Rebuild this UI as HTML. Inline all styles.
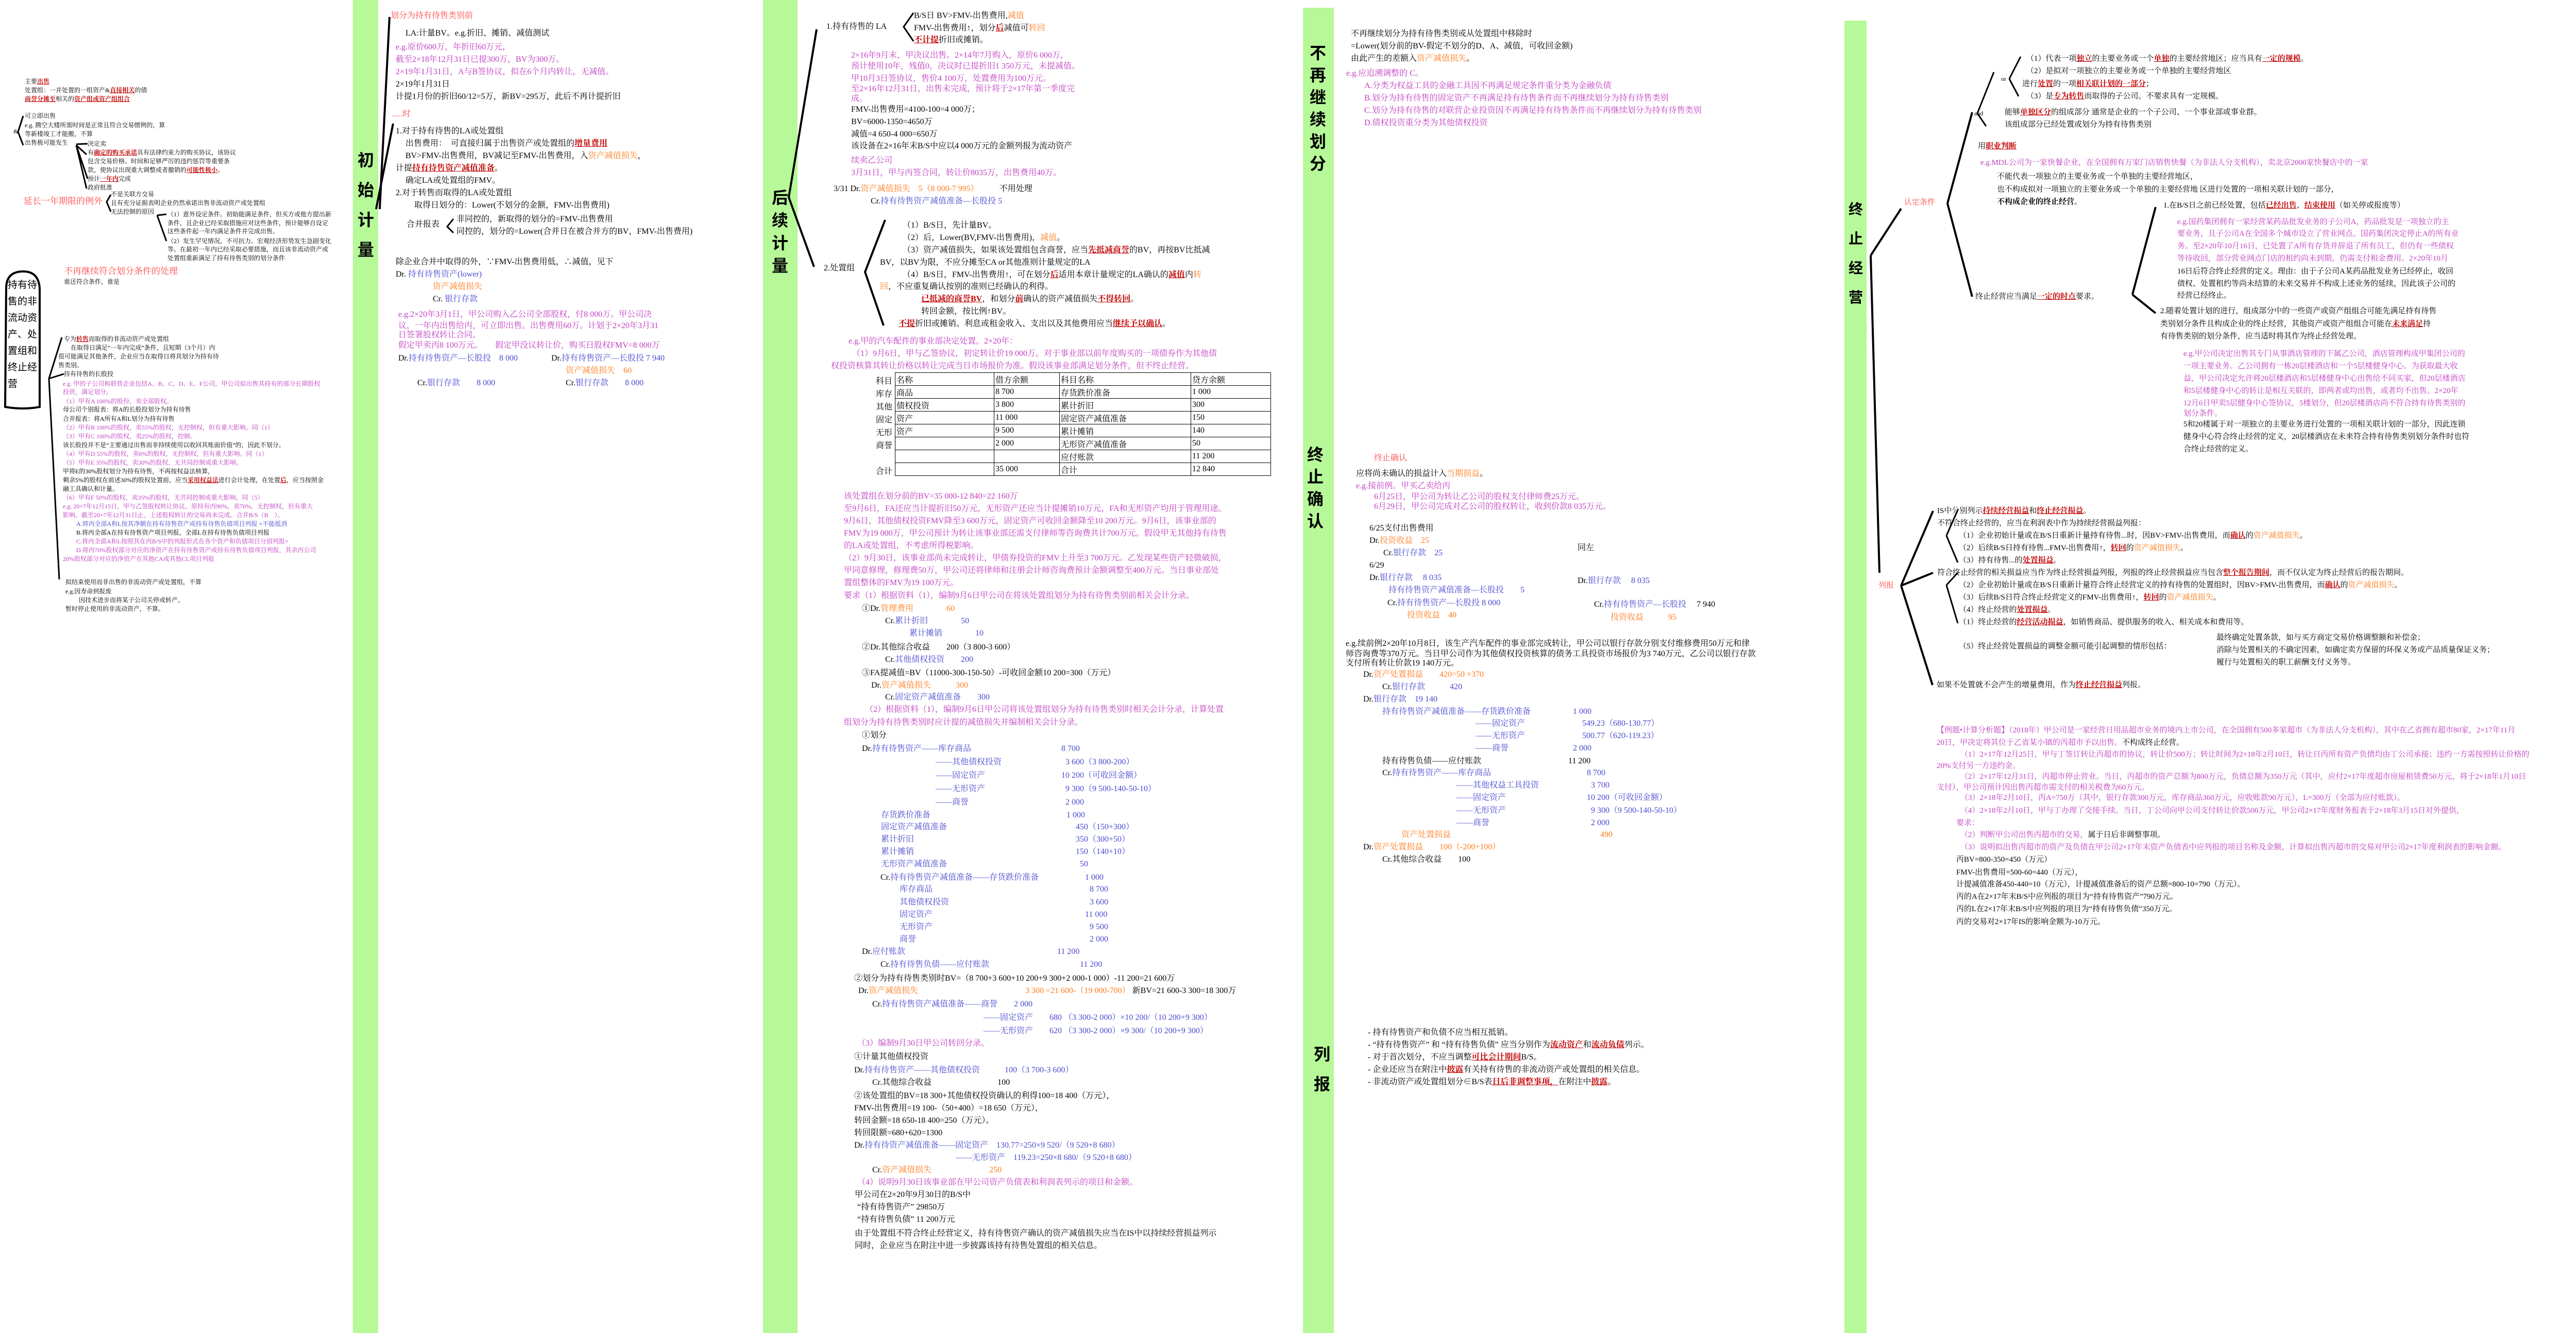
<!DOCTYPE html>
<html><head><meta charset="utf-8">
<style>
*{margin:0;padding:0}
body{width:5288px;height:2588px;position:relative;background:#fff;overflow:hidden;font-family:"Liberation Serif","Noto Serif CJK SC",serif;color:#000}
.bar{position:absolute;background:#b7f899}
.lab{position:absolute;font-family:"Liberation Sans","Noto Sans CJK SC",sans-serif;font-weight:bold;font-size:32px;line-height:1;text-align:center}
.t{position:absolute;white-space:nowrap;font-size:16px;line-height:18px}
.s{position:absolute;white-space:nowrap;font-size:12px;line-height:14px}
.pk{color:#c03cc0}.or{color:#ff7a1a}.bl{color:#4848d0}.rl{color:#ff4545}
.u{color:#c00000;font-weight:bold;text-decoration:underline}
table{position:absolute;border-collapse:collapse;font-size:16px}
td{border:1px solid #000;height:24px;padding:0 2px;white-space:nowrap}
</style></head><body>
<div class="bar" style="left:685px;top:0;width:49px;height:2588px"></div>
<div class="bar" style="left:1481px;top:0;width:67px;height:2588px"></div>
<div class="bar" style="left:2529px;top:15px;width:60px;height:2573px"></div>
<div class="bar" style="left:3580px;top:40px;width:43px;height:2548px"></div>

<div class="lab" style="left:690px;top:282px;width:40px;line-height:58px">初<br>始<br>计<br>量</div>
<div class="lab" style="left:1494px;top:362px;width:40px;line-height:44px">后<br>续<br>计<br>量</div>
<div class="lab" style="left:2538px;top:82px;width:40px;line-height:43px">不<br>再<br>继<br>续<br>划<br>分</div>
<div class="lab" style="left:2533px;top:862px;width:40px;line-height:43px">终<br>止<br>确<br>认</div>
<div class="lab" style="left:2546px;top:2018px;width:40px;line-height:58px">列<br>报</div>
<div class="lab" style="left:3584px;top:378px;width:36px;font-size:28px;line-height:57px">终<br>止<br>经<br>营</div>

<svg style="position:absolute;left:0;top:0" width="5288" height="2588" fill="none" stroke="#000">
<g stroke-width="4">
<path d="M756,33 L737,406"/><path d="M763,240 L730,406"/>
<path d="M1585,57 L1531,383 L1580,518"/>
<path d="M1718,427 L1679,528 L1715,632"/>
<path d="M3631,496 L3690,405"/><path d="M3631,496 L3648,1112"/>
<path d="M3780,395 L3828,218"/><path d="M3780,395 L3828,576"/>
<path d="M4139,572 L4184,402"/><path d="M4139,572 L4184,608"/>
<path d="M3690,1137 L3752,992"/><path d="M3690,1137 L3752,1112"/><path d="M3690,1137 L3751,1330"/>
<path d="M12,560 Q12,527 45,527 Q75,527 77,560 L77,790 Q45,796 10,790 Z"/>
</g>
<g stroke-width="3">
<path d="M880,425 L868,440 L880,452"/>
<path d="M1773,25 L1754,52 L1773,80"/>
<path d="M3838,220 L3870,140"/><path d="M3838,220 L3855,245"/>
<path d="M3900,153 L3922,110"/><path d="M3900,153 L3918,187"/>
<path d="M3778,1040 L3800,990"/><path d="M3778,1040 L3800,1092"/>
<path d="M3778,1136 L3800,1112"/><path d="M3778,1136 L3800,1210"/>
<path d="M45,225 L35,256 L45,282"/>
<path d="M148,280 L170,279"/><path d="M148,282 L168,300"/><path d="M148,282 L170,347"/><path d="M148,282 L168,366"/>
<path d="M215,378 L207,392 L215,411"/><path d="M305,418 L323,416"/><path d="M305,418 L323,468"/>
<path d="M120,655 L95,735 L115,1125"/><path d="M95,735 L124,726"/>
</g>
</svg>

<!-- left mind map -->
<div class="s" style="left:48px;top:151px">主要<span class="u">出售</span></div>
<div class="s" style="left:48px;top:168px">处置组：一并处置的一组资产&amp;<span class="u">直接相关</span>的债</div>
<div class="s" style="left:48px;top:185px"><span class="u">商誉分摊至</span>相关的<span class="u">资产组或资产组组合</span></div>
<div class="s" style="left:48px;top:218px">可立即出售</div>
<div class="s" style="left:48px;top:236px">e.g. 腾空大楼所需时间是正常且符合交易惯例的，算</div>
<div class="s" style="left:48px;top:253px">等新楼竣工才能搬，不算</div>
<div class="s" style="left:48px;top:270px">出售极可能发生</div>
<div class="s" style="left:26px;top:248px">&amp;</div>
<div class="s" style="left:170px;top:272px">决定卖</div>
<div class="s" style="left:170px;top:289px">有<span class="u">确定的购买承诺</span>具有法律约束力的购买协议，该协议</div>
<div class="s" style="left:170px;top:306px">包含交易价格、时间和足够严厉的违约惩罚等重要条</div>
<div class="s" style="left:170px;top:323px">款，使协议出现重大调整或者撤销的<span class="u">可能性极小</span>。</div>
<div class="s" style="left:170px;top:340px">预计<span class="u">一年内</span>完成</div>
<div class="s" style="left:170px;top:357px">政府批准</div>
<div class="s rl" style="left:46px;top:381px;font-size:17px;line-height:20px">延长一年期限的例外</div>
<div class="s" style="left:215px;top:370px">不是关联方交易</div>
<div class="s" style="left:215px;top:387px">且有充分证据表明企业仍然承诺出售非流动资产或处置组</div>
<div class="s" style="left:215px;top:404px">无法控制的原因</div>
<div class="s" style="left:325px;top:409px">（1）意外设定条件。初始能满足条件，但买方或他方提出新</div>
<div class="s" style="left:325px;top:426px">条件，且企业已经采取措施应对这些条件，预计能够自设定</div>
<div class="s" style="left:325px;top:442px">这些条件起一年内满足条件并完成出售。</div>
<div class="s" style="left:325px;top:461px">（2）发生罕见情况。不可抗力、宏观经济形势发生急剧变化</div>
<div class="s" style="left:325px;top:477px">等。在最初一年内已经采取必要措施，而且该非流动资产或</div>
<div class="s" style="left:325px;top:494px">处置组重新满足了持有待售类别的划分条件</div>
<div class="s rl" style="left:124px;top:517px;font-size:17px;line-height:20px">不再继续符合划分条件的处理</div>
<div class="s" style="left:124px;top:540px">谁还符合条件，谁是</div>
<div class="s" style="left:15px;top:538px;font-size:19px;line-height:32px;font-family:'Liberation Sans','Noto Sans CJK SC',sans-serif">持有待<br>售的非<br>流动资<br>产、处<br>置组和<br>终止经<br>营</div>
<div class="s" style="left:124px;top:651px">专为<span class="u">转售</span>而取得的非流动资产或处置组</div>
<div class="s" style="left:137px;top:668px">在取得日满足“一年内完成”条件，且短期（3个月）内</div>
<div class="s" style="left:113px;top:685px">很可能满足其他条件，企业应当在取得日将其划分为持有待</div>
<div class="s" style="left:113px;top:702px">售类别。</div>
<div class="s" style="left:124px;top:719px">持有待售的长股投</div>
<div class="s pk" style="left:122px;top:738px">e.g. 甲的子公司和联营企业包括A、B、C、D、E、F公司，甲公司拟出售其持有的部分长期股权</div>
<div class="s pk" style="left:122px;top:754px">投资，满足划分。</div>
<div class="s pk" style="left:122px;top:772px">（1）甲有A 100%的股份，卖全部股权。</div>
<div class="s" style="left:122px;top:788px">母公司个别报表：将A的长股投划分为持有待售</div>
<div class="s" style="left:122px;top:806px">合并报表：将A所有A和L划分为持有待售</div>
<div class="s pk" style="left:122px;top:823px">（2）甲有B 100%的股权，卖55%的股权，无控制权，但有重大影响。同（1）</div>
<div class="s pk" style="left:122px;top:840px">（3）甲有C 100%的股权，卖25%的股权，控制。</div>
<div class="s" style="left:122px;top:857px">该长股投并不是“主要通过出售而非持续使用以收回其账面价值”的，因此不划分。</div>
<div class="s pk" style="left:122px;top:874px">（4）甲有D 55%的股权，卖6%的股权，无控制权，但有重大影响。同（1）</div>
<div class="s pk" style="left:122px;top:891px">（5）甲有E 35%的股权，卖30%的股权，无共同控制或重大影响。</div>
<div class="s" style="left:122px;top:908px">甲将E的30%股权划分为持有待售，不再按权益法核算，</div>
<div class="s" style="left:122px;top:925px">剩余5%的股权在前述30%的股权处置前，应当<span class="u">采用权益法</span>进行会计处理，在处置<span class="u">后</span>，应当按照金</div>
<div class="s" style="left:122px;top:942px">融工具确认和计量。</div>
<div class="s pk" style="left:122px;top:959px">（6）甲有F 50%的股权，卖35%的股权，无共同控制或重大影响。同（5）</div>
<div class="s pk" style="left:122px;top:976px">e.g. 20×7年12月15日，甲与乙签股权转让协议，原持有丙90%，卖70%，无控制权，但有重大</div>
<div class="s pk" style="left:122px;top:993px">影响。截至20×7年12月31日止，上述股权转让的交易尚未完成。合并B/S（B　）。</div>
<div class="s bl" style="left:148px;top:1010px">A.将丙全部A和L按其净额在持有待售资产或持有待售负债项目列报 ×不能抵消</div>
<div class="s" style="left:148px;top:1027px">B.将丙全部A在持有待售资产项目列报，全部L在持有待售负债项目列报</div>
<div class="s pk" style="left:148px;top:1044px">C.将丙全部A和L按照其在丙B/S中的列报形式在各个资产和负债项目分别列报×</div>
<div class="s pk" style="left:148px;top:1061px">D.将丙70%股权部分对应的净资产在持有待售资产或持有待售负债项目列报，其余丙公司</div>
<div class="s pk" style="left:122px;top:1078px">20%股权部分对应的净资产在其他CA或其他CL项目列报</div>
<div class="s" style="left:127px;top:1123px">拟结束使用而非出售的非流动资产或处置组，不算</div>
<div class="s" style="left:127px;top:1141px">e.g.因寿命到报废</div>
<div class="s" style="left:153px;top:1158px">因技术进步而将某子公司关停或转产。</div>
<div class="s" style="left:127px;top:1175px">暂时停止使用的非流动资产，不算。</div>

<!-- 初始计量 -->
<div class="t rl" style="left:758px;top:22px">划分为持有待售类别前</div>
<div class="t" style="left:787px;top:56px">LA:计量BV。e.g.折旧、摊销、减值测试</div>
<div class="t pk" style="left:768px;top:83px">e.g.原价600万，年折旧60万元，</div>
<div class="t pk" style="left:768px;top:107px">截至2×18年12月31日已提300万，BV为300万。</div>
<div class="t pk" style="left:768px;top:131px">2×19年1月31日，A与B签协议，拟在6个月内转让，无减值。</div>
<div class="t" style="left:768px;top:155px">2×19年1月31日</div>
<div class="t" style="left:768px;top:179px">计提1月份的折旧60/12=5万，新BV=295万，此后不再计提折旧</div>
<div class="t rl" style="left:761px;top:213px">.....时</div>
<div class="t" style="left:768px;top:246px">1.对于持有待售的LA或处置组</div>
<div class="t" style="left:787px;top:270px">出售费用：　可直接归属于出售资产或处置组的<span class="u">增量费用</span></div>
<div class="t" style="left:787px;top:294px">BV&gt;FMV-出售费用，BV减记至FMV-出售费用，入<span class="or">资产减值损失</span>，</div>
<div class="t" style="left:768px;top:318px">计提<span class="u">持有待售资产减值准备</span>。</div>
<div class="t" style="left:787px;top:342px">确定LA或处置组的FMV。</div>
<div class="t" style="left:768px;top:366px">2.对于转售而取得的LA或处置组</div>
<div class="t" style="left:804px;top:390px">取得日划分的：Lower(不划分的金额，FMV-出售费用)</div>
<div class="t" style="left:789px;top:427px">合并报表</div>
<div class="t" style="left:886px;top:417px">非同控的，新取得的划分的=FMV-出售费用</div>
<div class="t" style="left:886px;top:441px">同控的，划分的=Lower(合并日在被合并方的BV，FMV-出售费用)</div>
<div class="t" style="left:768px;top:500px">除企业合并中取得的外，∵FMV-出售费用低，∴减值，见下</div>
<div class="t" style="left:768px;top:524px">Dr. <span class="bl">持有待售资产(lower)</span></div>
<div class="t or" style="left:840px;top:548px">资产减值损失</div>
<div class="t" style="left:840px;top:572px">Cr. <span class="bl">银行存款</span></div>
<div class="t pk" style="left:773px;top:602px">e.g.2×20年3月1日，甲公司购入乙公司全部股权，付8 000万。甲公司决</div>
<div class="t pk" style="left:773px;top:624px">议，一年内出售给丙，可立即出售。出售费用60万。计划于2×20年3月31</div>
<div class="t pk" style="left:773px;top:642px">日签署股权转让合同。</div>
<div class="t pk" style="left:773px;top:662px">假定甲卖丙8 100万元。　　假定甲没议转让价，购买日股权FMV=8 000万</div>
<div class="t" style="left:773px;top:687px">Dr.<span class="bl">持有待售资产—长股投　8 000</span></div>
<div class="t" style="left:1070px;top:687px">Dr.<span class="bl">持有待售资产—长股投 7 940</span></div>
<div class="t or" style="left:1098px;top:711px">资产减值损失　60</div>
<div class="t" style="left:810px;top:735px">Cr.<span class="bl">银行存款　　8 000</span></div>
<div class="t" style="left:1098px;top:735px">Cr.<span class="bl">银行存款　　8 000</span></div>

<!-- 后续计量 -->
<div class="t" style="left:1604px;top:43px">1.持有待售的 LA</div>
<div class="t" style="left:1774px;top:22px">B/S日 BV&gt;FMV-出售费用,<span class="or">减值</span></div>
<div class="t" style="left:1774px;top:46px">FMV-出售费用↑，划分<span class="u">后</span>减值可<span class="or">转回</span></div>
<div class="t" style="left:1774px;top:69px"><span class="u">不计提</span>折旧或摊销。</div>
<div class="t pk" style="left:1652px;top:99px">2×16年9月末，甲决议出售。2×14年7月购入，原价6 000万，</div>
<div class="t pk" style="left:1652px;top:120px">预计使用10年，残值0，决议时已提折旧1 350万元，未提减值。</div>
<div class="t pk" style="left:1652px;top:144px">甲10月3日签协议，售价4 100万，处置费用为100万元。</div>
<div class="t pk" style="left:1652px;top:164px">至2×16年12月31日，出售未完成，预计将于2×17年第一季度完</div>
<div class="t pk" style="left:1652px;top:183px">成。</div>
<div class="t" style="left:1652px;top:204px">FMV-出售费用=4100-100=4 000万；</div>
<div class="t" style="left:1652px;top:228px">BV=6000-1350=4650万</div>
<div class="t" style="left:1652px;top:252px">减值=4 650-4 000=650万</div>
<div class="t" style="left:1652px;top:275px">该设备在2×16年末B/S中应以4 000万元的金额列报为流动资产</div>
<div class="t pk" style="left:1652px;top:303px">续卖乙公司</div>
<div class="t pk" style="left:1652px;top:327px">3月31日，甲与丙签合同，转让价8035万，出售费用40万。</div>
<div class="t" style="left:1618px;top:358px">3/31 Dr.<span class="or">资产减值损失　5（8 000-7 995）</span>　　　不用处理</div>
<div class="t bl" style="left:1690px;top:382px"><span style="color:#000">Cr.</span>持有待售资产减值准备—长股投 5</div>
<div class="t" style="left:1599px;top:512px">2.处置组</div>
<div class="t" style="left:1752px;top:429px">（1）B/S日，先计量BV。</div>
<div class="t" style="left:1752px;top:453px">（2）后，Lower(BV,FMV-出售费用)，<span class="or">减值</span>。</div>
<div class="t" style="left:1752px;top:477px">（3）资产减值损失，如果该处置组包含商誉，应当<span class="u">先抵减商誉</span>的BV，再按BV比抵减</div>
<div class="t" style="left:1708px;top:501px">BV，以BV为限，不应分摊至CA or其他准则计量规定的LA</div>
<div class="t" style="left:1752px;top:525px">（4）B/S日，FMV-出售费用↑，可在划分<span class="u">后</span>适用本章计量规定的LA确认的<span class="u">减值</span>内<span class="or">转</span></div>
<div class="t" style="left:1708px;top:548px"><span class="or">回</span>，不应重复确认按别的准则已经确认的利得。</div>
<div class="t" style="left:1788px;top:572px"><span class="u">已抵减的商誉BV</span>，和划分<span class="u">前</span>确认的资产减值损失<span class="u">不得转回</span>。</div>
<div class="t" style="left:1788px;top:596px">转回金额，按比例↑BV。</div>
<div class="t" style="left:1744px;top:620px"><span class="u">不提</span>折旧或摊销。利息或租金收入、支出以及其他费用应当<span class="u">继续予以确认</span>。</div>
<div class="t pk" style="left:1647px;top:654px">e.g.甲的汽车配件的事业部决定处置。2×20年：</div>
<div class="t pk" style="left:1654px;top:678px">（1）9月6日，甲与乙签协议，初定转让价19 000万。对于事业部以前年度购买的一项债券作为其他债</div>
<div class="t pk" style="left:1613px;top:702px">权投资核算其转让价格以转让完成当日市场报价为准。假设该事业部满足划分条件，但不终止经营。</div>
<div class="t" style="left:1700px;top:728px;line-height:25px">科目<br>库存<br>其他<br>固定<br>无形<br>商誉<br><br>合计</div>
<table style="left:1737px;top:723px">
<tr><td style="width:187px">名称</td><td style="width:122px">借方余额</td><td style="width:250px">科目名称</td><td style="width:150px">贷方余额</td></tr>
<tr><td>商品</td><td>8 700</td><td>存货跌价准备</td><td>1 000</td></tr>
<tr><td>债权投资</td><td>3 800</td><td>累计折旧</td><td>300</td></tr>
<tr><td>资产</td><td>11 000</td><td>固定资产减值准备</td><td>150</td></tr>
<tr><td>资产</td><td>9 500</td><td>累计摊销</td><td>140</td></tr>
<tr><td></td><td>2 000</td><td>无形资产减值准备</td><td>50</td></tr>
<tr><td></td><td></td><td>应付账款</td><td>11 200</td></tr>
<tr><td></td><td>35 000</td><td>合计</td><td>12 840</td></tr>
</table>
<div class="t pk" style="left:1638px;top:955px">该处置组在划分前的BV=35 000-12 840=22 160万</div>
<div class="t pk" style="left:1638px;top:979px">至9月6日，FA还应当计提折旧50万元，无形资产还应当计提摊销10万元，FA和无形资产均用于管理用途。</div>
<div class="t pk" style="left:1638px;top:1003px">9月6日，其他债权投资FMV降至3 600万元，固定资产可收回金额降至10 200万元。9月6日，该事业部的</div>
<div class="t pk" style="left:1638px;top:1027px">FMV为19 000万，甲公司预计为转让该事业部还需支付律师等咨询费共计700万元。假设甲无其他持有待售</div>
<div class="t pk" style="left:1638px;top:1051px">的LA或处置组，不考虑所得税影响。</div>
<div class="t pk" style="left:1638px;top:1075px">（2）9月30日，该事业部尚未完成转让，甲债券投资的FMV上升至3 700万元。乙发现某些资产轻微破损，</div>
<div class="t pk" style="left:1638px;top:1099px">甲同意修理，修理费50万，甲公司还将律师和注册会计师咨询费预计金额调整至400万元。当日事业部处</div>
<div class="t pk" style="left:1638px;top:1123px">置组整体的FMV为19 100万元。</div>
<div class="t pk" style="left:1638px;top:1148px">要求（1）根据资料（1），编制9月6日甲公司在将该处置组划分为持有待售类别前相关会计分录。</div>
<div class="t" style="left:1673px;top:1173px">①Dr.<span class="or">管理费用　　　　60</span></div>
<div class="t bl" style="left:1718px;top:1197px"><span style="color:#000">Cr.</span>累计折旧　　　　50</div>
<div class="t bl" style="left:1765px;top:1221px">累计摊销　　　　10</div>
<div class="t" style="left:1673px;top:1248px">②Dr.其他综合收益　　200（3 800-3 600）</div>
<div class="t bl" style="left:1718px;top:1272px"><span style="color:#000">Cr.</span>其他债权投资　　200</div>
<div class="t" style="left:1673px;top:1298px">③FA提减值=BV（11000-300-150-50）-可收回金额10 200=300（万元）</div>
<div class="t" style="left:1691px;top:1322px">Dr.<span class="or">资产减值损失　　　300</span></div>
<div class="t bl" style="left:1718px;top:1345px"><span style="color:#000">Cr.</span>固定资产减值准备　　300</div>
<div class="t pk" style="left:1679px;top:1369px">（2）根据资料（1），编制9月6日甲公司将该处置组划分为持有待售类别时相关会计分录，计算处置</div>
<div class="t pk" style="left:1638px;top:1394px">组划分为持有待售类别时应计提的减值损失并编制相关会计分录。</div>
<div class="t" style="left:1673px;top:1419px">①划分</div>
<div class="t" style="left:1673px;top:1445px">Dr.<span class="bl">持有待售资产——库存商品</span></div>
<div class="t bl" style="left:2060px;top:1445px">8 700</div>
<div class="t bl" style="left:1816px;top:1471px">——其他债权投资</div><div class="t bl" style="left:2068px;top:1471px">3 600（3 800-200）</div>
<div class="t bl" style="left:1816px;top:1497px">——固定资产</div><div class="t bl" style="left:2060px;top:1497px">10 200（可收回金额）</div>
<div class="t bl" style="left:1816px;top:1523px">——无形资产</div><div class="t bl" style="left:2068px;top:1523px">9 300（9 500-140-50-10）</div>
<div class="t bl" style="left:1816px;top:1549px">——商誉</div><div class="t bl" style="left:2068px;top:1549px">2 000</div>
<div class="t bl" style="left:1710px;top:1574px">存货跌价准备</div><div class="t bl" style="left:2070px;top:1574px">1 000</div>
<div class="t bl" style="left:1710px;top:1597px">固定资产减值准备</div><div class="t bl" style="left:2088px;top:1597px">450（150+300）</div>
<div class="t bl" style="left:1710px;top:1621px">累计折旧</div><div class="t bl" style="left:2088px;top:1621px">350（300+50）</div>
<div class="t bl" style="left:1710px;top:1645px">累计摊销</div><div class="t bl" style="left:2088px;top:1645px">150（140+10）</div>
<div class="t bl" style="left:1710px;top:1669px">无形资产减值准备</div><div class="t bl" style="left:2096px;top:1669px">50</div>
<div class="t" style="left:1709px;top:1695px">Cr.<span class="bl">持有待售资产减值准备——存货跌价准备</span></div><div class="t bl" style="left:2106px;top:1695px">1 000</div>
<div class="t bl" style="left:1746px;top:1718px">库存商品</div><div class="t bl" style="left:2115px;top:1718px">8 700</div>
<div class="t bl" style="left:1746px;top:1743px">其他债权投资</div><div class="t bl" style="left:2115px;top:1743px">3 600</div>
<div class="t bl" style="left:1746px;top:1767px">固定资产</div><div class="t bl" style="left:2106px;top:1767px">11 000</div>
<div class="t bl" style="left:1746px;top:1791px">无形资产</div><div class="t bl" style="left:2115px;top:1791px">9 500</div>
<div class="t bl" style="left:1746px;top:1815px">商誉</div><div class="t bl" style="left:2115px;top:1815px">2 000</div>
<div class="t" style="left:1673px;top:1839px">Dr.<span class="bl">应付账款</span></div><div class="t bl" style="left:2052px;top:1839px">11 200</div>
<div class="t" style="left:1709px;top:1864px">Cr.<span class="bl">持有待售负债——应付账款</span></div><div class="t bl" style="left:2096px;top:1864px">11 200</div>
<div class="t" style="left:1658px;top:1891px">②划分为持有待售类别时BV=（8 700+3 600+10 200+9 300+2 000-1 000）-11 200=21 600万</div>
<div class="t" style="left:1666px;top:1915px">Dr.<span class="or">资产减值损失</span></div><div class="t" style="left:1990px;top:1915px"><span class="or">3 300 =21 600-（19 000-700）</span> 新BV=21 600-3 300=18 300万</div>
<div class="t" style="left:1693px;top:1941px">Cr.<span class="bl">持有待售资产减值准备——商誉　　2 000</span></div>
<div class="t bl" style="left:1909px;top:1967px">——固定资产　　680 （3 300-2 000）×10 200/（10 200+9 300）</div>
<div class="t bl" style="left:1909px;top:1993px">——无形资产　　620 （3 300-2 000）×9 300/（10 200+9 300）</div>
<div class="t pk" style="left:1664px;top:2017px">（3）编制9月30日甲公司转回分录。</div>
<div class="t" style="left:1658px;top:2043px">①计量其他债权投资</div>
<div class="t" style="left:1658px;top:2069px">Dr.<span class="bl">持有待售资产——其他债权投资　　　100（3 700-3 600）</span></div>
<div class="t" style="left:1693px;top:2093px">Cr.其他综合收益　　　　　　　　100</div>
<div class="t" style="left:1658px;top:2119px">②该处置组的BV=18 300+其他债权投资确认的利得100=18 400（万元），</div>
<div class="t" style="left:1658px;top:2143px">FMV-出售费用=19 100-（50+400）=18 650（万元），</div>
<div class="t" style="left:1658px;top:2167px">转回金额=18 650-18 400=250（万元）。</div>
<div class="t" style="left:1658px;top:2191px">转回限额=680+620=1300</div>
<div class="t" style="left:1658px;top:2215px">Dr.<span class="bl">持有待资产减值准备——固定资产　130.77=250×9 520/（9 520+8 680）</span></div>
<div class="t bl" style="left:1855px;top:2239px">——无形资产　119.23=250×8 680/（9 520+8 680）</div>
<div class="t" style="left:1693px;top:2263px">Cr.<span class="or">资产减值损失　　　　　　　250</span></div>
<div class="t pk" style="left:1664px;top:2287px">（4）说明9月30日该事业部在甲公司资产负债表和利润表列示的项目和金额。</div>
<div class="t" style="left:1659px;top:2311px">甲公司在2×20年9月30日的B/S中</div>
<div class="t" style="left:1664px;top:2335px">“持有待售资产” 29850万</div>
<div class="t" style="left:1664px;top:2359px">“持有待售负债” 11 200万元</div>
<div class="t" style="left:1659px;top:2386px">由于处置组不符合终止经营定义，持有待售资产确认的资产减值损失应当在IS中以持续经营损益列示</div>
<div class="t" style="left:1659px;top:2410px">同时，企业应当在附注中进一步披露该持有待售处置组的相关信息。</div>

<!-- 不再继续划分 / 终止确认 / 列报 -->
<div class="t" style="left:2622px;top:57px">不再继续划分为持有待售类别或从处置组中移除时</div>
<div class="t" style="left:2622px;top:81px">=Lower(划分前的BV-假定不划分的D、A、减值，可收回金额)</div>
<div class="t" style="left:2622px;top:105px">由此产生的差额入<span class="or">资产减值损失</span>。</div>
<div class="t pk" style="left:2613px;top:134px">e.g.应追溯调整的 C。</div>
<div class="t pk" style="left:2648px;top:158px">A.分类为权益工具的金融工具因不再满足规定条件重分类为金融负债</div>
<div class="t pk" style="left:2648px;top:182px">B.划分为持有待售的固定资产不再满足持有待售条件而不再继续划分为持有待售类别</div>
<div class="t pk" style="left:2648px;top:206px">C.划分为持有待售的对联营企业投资因不再满足持有待售条件而不再继续划分为持有待售类别</div>
<div class="t pk" style="left:2648px;top:230px">D.债权投资重分类为其他债权投资</div>
<div class="t rl" style="left:2667px;top:881px">终止确认</div>
<div class="t" style="left:2632px;top:911px">应将尚未确认的损益计入<span class="or">当期损益</span>。</div>
<div class="t pk" style="left:2632px;top:935px">e.g.接前例。甲买乙卖给丙</div>
<div class="t pk" style="left:2667px;top:956px">6月25日，甲公司为转让乙公司的股权支付律师费25万元。</div>
<div class="t pk" style="left:2667px;top:975px">6月29日，甲公司完成对乙公司的股权转让，收到价款8 035万元。</div>
<div class="t" style="left:2658px;top:1017px">6/25支付出售费用</div>
<div class="t" style="left:2658px;top:1041px">Dr.<span class="or">投资收益　25</span></div>
<div class="t" style="left:2685px;top:1065px">Cr.<span class="bl">银行存款　25</span></div>
<div class="t" style="left:2658px;top:1089px">6/29</div>
<div class="t" style="left:2658px;top:1113px">Dr.<span class="bl">银行存款　 8 035</span></div>
<div class="t bl" style="left:2695px;top:1137px">持有待售资产减值准备—长股投　　5</div>
<div class="t" style="left:2693px;top:1162px">Cr.<span class="bl">持有待售资产—长股投 8 000</span></div>
<div class="t or" style="left:2731px;top:1186px">投资收益　40</div>
<div class="t" style="left:3062px;top:1055px">同左</div>
<div class="t" style="left:3062px;top:1119px">Dr.<span class="bl">银行存款　 8 035</span></div>
<div class="t" style="left:3094px;top:1165px">Cr.<span class="bl">持有待售资产—长股投</span>　 7 940</div>
<div class="t or" style="left:3126px;top:1190px">投资收益　　　95</div>
<div class="t" style="left:2612px;top:1241px">e.g.续前例2×20年10月8日，该生产汽车配件的事业部完成转让，甲公司以银行存款分别支付维修费用50万元和律</div>
<div class="t" style="left:2612px;top:1261px">师咨询费等370万元。当日甲公司作为其他债权投资核算的债务工具投资市场报价为3 740万元，乙公司以银行存款</div>
<div class="t" style="left:2612px;top:1279px">支付所有转让价款19 140万元。</div>
<div class="t" style="left:2646px;top:1301px">Dr.<span class="or">资产处置损益　　420=50 +370</span></div>
<div class="t" style="left:2683px;top:1325px">Cr.<span class="bl">银行存款　　　420</span></div>
<div class="t" style="left:2646px;top:1349px">Dr.<span class="bl">银行存款　19 140</span></div>
<div class="t bl" style="left:2683px;top:1373px">持有待售资产减值准备——存货跌价准备</div><div class="t bl" style="left:3053px;top:1373px">1 000</div>
<div class="t bl" style="left:2864px;top:1396px">——固定资产</div><div class="t bl" style="left:3071px;top:1396px">549.23（680-130.77）</div>
<div class="t bl" style="left:2864px;top:1420px">——无形资产</div><div class="t bl" style="left:3071px;top:1420px">500.77（620-119.23）</div>
<div class="t bl" style="left:2864px;top:1444px">——商誉</div><div class="t bl" style="left:3053px;top:1444px">2 000</div>
<div class="t" style="left:2683px;top:1469px">持有待售负债——应付账款</div><div class="t" style="left:3044px;top:1469px">11 200</div>
<div class="t" style="left:2683px;top:1492px">Cr.<span class="bl">持有待售资产——库存商品</span></div><div class="t bl" style="left:3080px;top:1492px">8 700</div>
<div class="t bl" style="left:2827px;top:1516px">——其他权益工具投资</div><div class="t bl" style="left:3088px;top:1516px">3 700</div>
<div class="t bl" style="left:2827px;top:1540px">——固定资产</div><div class="t bl" style="left:3080px;top:1540px">10 200（可收回金额）</div>
<div class="t bl" style="left:2827px;top:1565px">——无形资产</div><div class="t bl" style="left:3088px;top:1565px">9 300（9 500-140-50-10）</div>
<div class="t bl" style="left:2827px;top:1589px">——商誉</div><div class="t bl" style="left:3088px;top:1589px">2 000</div>
<div class="t or" style="left:2720px;top:1612px">资产处置损益</div><div class="t or" style="left:3106px;top:1612px">490</div>
<div class="t" style="left:2646px;top:1636px">Dr.<span class="or">资产处置损益　　100（-200+100）</span></div>
<div class="t" style="left:2683px;top:1660px">Cr.其他综合收益　　100</div>
<div class="t" style="left:2655px;top:1996px">- 持有待售资产和负债不应当相互抵销。</div>
<div class="t" style="left:2655px;top:2020px">- “持有待售资产” 和 “持有待售负债” 应当分别作为<span class="u">流动资产</span>和<span class="u">流动负债</span>列示。</div>
<div class="t" style="left:2655px;top:2044px">- 对于首次划分，不应当调整<span class="u">可比会计期间</span>B/S。</div>
<div class="t" style="left:2655px;top:2068px">- 企业还应当在附注中<span class="u">披露</span>有关持有待售的非流动资产或处置组的相关信息。</div>
<div class="t" style="left:2655px;top:2092px">- 非流动资产或处置组划分∈B/S表<span class="u">日后非调整事项，</span>在附注中<span class="u">披露</span>。</div>

<!-- 终止经营 -->
<div class="t" style="left:3933px;top:105px;font-size:15px">（1）代表一项<span class="u">独立</span>的主要业务或一个<span class="u">单独</span>的主要经营地区；应当具有<span class="u">一定的规模</span>。</div>
<div class="t" style="left:3933px;top:129px;font-size:15px">（2）是拟对一项独立的主要业务或一个单独的主要经营地区</div>
<div class="t" style="left:3925px;top:154px;font-size:15px">进行<span class="u">处置</span>的一项<span class="u">相关联计划的一部分</span>；</div>
<div class="t" style="left:3933px;top:178px;font-size:15px">（3）是<span class="u">专为转售</span>而取得的子公司。不要求具有一定规模。</div>
<div class="s" style="left:3884px;top:146px">or</div>
<div class="s" style="left:3832px;top:213px">and</div>
<div class="t" style="left:3891px;top:209px;font-size:15px">能够<span class="u">单独区分</span>的组成部分 通常是企业的一个子公司、一个事业部或事业群。</div>
<div class="t" style="left:3891px;top:233px;font-size:15px">该组成部分已经处置或划分为持有待售类别</div>
<div class="t" style="left:3839px;top:275px;font-size:15px">用<span class="u">职业判断</span></div>
<div class="t pk" style="left:3844px;top:307px;font-size:15px">e.g.MDL公司为一家快餐企业，在全国拥有万家门店销售快餐（为非法人分支机构），卖北京2000家快餐店中的一家</div>
<div class="t" style="left:3876px;top:334px;font-size:15px">不能代表一项独立的主要业务或一个单独的主要经营地区，</div>
<div class="t" style="left:3876px;top:359px;font-size:15px">也不构成拟对一项独立的主要业务或一个单独的主要经营地 区进行处置的一项相关联计划的一部分，</div>
<div class="t" style="left:3876px;top:383px;font-size:15px;font-weight:bold">不构成企业的终止经营。</div>
<div class="t rl" style="left:3696px;top:384px;font-size:15px">认定条件</div>
<div class="t" style="left:3834px;top:567px;font-size:15px">终止经营应当满足<span class="u">一定的时点</span>要求。</div>
<div class="t" style="left:4199px;top:390px;font-size:15px">1.在B/S日之前已经处置，包括<span class="u">已经出售</span>、<span class="u">结束使用</span>（如关停或报废等）</div>
<div class="t pk" style="left:4226px;top:422px;font-size:15px">e.g.国药集团拥有一家经营某药品批发业务的子公司A，药品批发是一项独立的主</div>
<div class="t pk" style="left:4226px;top:445px;font-size:15px">要业务，且子公司A在全国多个城市设立了营业网点。国药集团决定停止A的所有业</div>
<div class="t pk" style="left:4226px;top:469px;font-size:15px">务。至2×20年10月16日，已处置了A所有存货并辞退了所有员工，但仍有一些债权</div>
<div class="t pk" style="left:4226px;top:493px;font-size:15px">等待收回，部分营业网点门店的租约尚未到期，仍需支付租金费用。2×20年10月</div>
<div class="t" style="left:4226px;top:518px;font-size:15px">16日后符合终止经营的定义。理由：由于子公司A某药品批发业务已经停止，收回</div>
<div class="t" style="left:4226px;top:542px;font-size:15px">债权、处置租约等尚未结算的未来交易并不构成上述业务的延续，因此该子公司的</div>
<div class="t" style="left:4226px;top:565px;font-size:15px">经营已经终止。</div>
<div class="t" style="left:4193px;top:595px;font-size:15px">2.随着处置计划的进行，组成部分中的一些资产或资产组组合可能先满足持有待售</div>
<div class="t" style="left:4193px;top:620px;font-size:15px">类别划分条件且构成企业的终止经营，其他资产或资产组组合可能在<span class="u">未来满足</span>持</div>
<div class="t" style="left:4193px;top:644px;font-size:15px">有待售类别的划分条件，应当适时将其作为终止经营处理。</div>
<div class="t pk" style="left:4238px;top:678px;font-size:15px">e.g.甲公司决定出售其专门从事酒店管理的下属乙公司，酒店管理构成甲集团公司的</div>
<div class="t pk" style="left:4238px;top:702px;font-size:15px">一项主要业务。乙公司拥有一栋20层楼酒店和一个5层楼健身中心。为获取最大收</div>
<div class="t pk" style="left:4238px;top:726px;font-size:15px">益，甲公司决定允许将20层楼酒店和5层楼健身中心出售给不同买家，但20层楼酒店</div>
<div class="t pk" style="left:4238px;top:750px;font-size:15px">和5层楼健身中心的转让是相互关联的，即两者或均出售，或者均不出售。2×20年</div>
<div class="t pk" style="left:4238px;top:774px;font-size:15px">12月6日甲卖5层健身中心签协议，5楼划分，但20层楼酒店尚不符合持有待售类别的</div>
<div class="t pk" style="left:4238px;top:794px;font-size:15px">划分条件。</div>
<div class="t" style="left:4238px;top:815px;font-size:15px">5和20楼属于对一项独立的主要业务进行处置的一项相关联计划的一部分，因此连锁</div>
<div class="t" style="left:4238px;top:839px;font-size:15px">健身中心符合终止经营的定义，20层楼酒店在未来符合持有待售类别划分条件时也符</div>
<div class="t" style="left:4238px;top:863px;font-size:15px">合终止经营的定义。</div>
<div class="t rl" style="left:3646px;top:1128px;font-size:15px">列报</div>
<div class="t" style="left:3760px;top:983px;font-size:15px">IS中分别列示<span class="u">持续经营损益</span>和<span class="u">终止经营损益</span>。</div>
<div class="t" style="left:3760px;top:1007px;font-size:15px">不符合终止经营的，应当在利润表中作为持续经营损益列报：</div>
<div class="t" style="left:3802px;top:1031px;font-size:15px">（1）企业初始计量或在B/S日重新计量持有待售...时，因BV&gt;FMV-出售费用，而<span class="u">确认</span>的<span class="or">资产减值损失</span>。</div>
<div class="t" style="left:3802px;top:1055px;font-size:15px">（2）后续B/S日持有待售...FMV-出售费用↑，<span class="u">转回</span>的<span class="or">资产减值损失</span>。</div>
<div class="t" style="left:3802px;top:1079px;font-size:15px">（3）持有待售...的<span class="u">处置损益</span>。</div>
<div class="t" style="left:3760px;top:1103px;font-size:15px">符合终止经营的相关损益应当作为终止经营损益列报，列报的终止经营损益应当包含<span class="u">整个报告期间</span>，而不仅认定为终止经营后的报告期间。</div>
<div class="t" style="left:3802px;top:1127px;font-size:15px">（2）企业初始计量或在B/S日重新计量符合终止经营定义的持有待售的处置组时，因BV&gt;FMV-出售费用，而<span class="u">确认</span>的<span class="or">资产减值损失</span>。</div>
<div class="t" style="left:3802px;top:1151px;font-size:15px">（3）后续B/S日符合终止经营定义的FMV-出售费用↑，<span class="u">转回</span>的<span class="or">资产减值损失</span>。</div>
<div class="t" style="left:3802px;top:1175px;font-size:15px">（4）终止经营的<span class="u">处置损益</span>。</div>
<div class="t" style="left:3802px;top:1199px;font-size:15px">（1）终止经营的<span class="u">经营活动损益</span>，如销售商品、提供服务的收入、相关成本和费用等。</div>
<div class="t" style="left:3802px;top:1246px;font-size:15px">（5）终止经营处置损益的调整金额可能引起调整的情形包括：</div>
<div class="t" style="left:4302px;top:1229px;font-size:15px">最终确定处置条款，如与买方商定交易价格调整额和补偿金；</div>
<div class="t" style="left:4302px;top:1253px;font-size:15px">消除与处置相关的不确定因素，如确定卖方保留的环保义务或产品质量保证义务；</div>
<div class="t" style="left:4302px;top:1277px;font-size:15px">履行与处置相关的职工薪酬支付义务等。</div>
<div class="t" style="left:3759px;top:1321px;font-size:15px">如果不处置就不会产生的增量费用，作为<span class="u">终止经营损益</span>列报。</div>
<div class="t pk" style="left:3759px;top:1409px;font-size:15px">【例题•计算分析题】（2018年）甲公司是一家经营日用品超市业务的境内上市公司，在全国拥有500多家超市（为非法人分支机构），其中在乙省拥有超市80家，2×17年11月</div>
<div class="t pk" style="left:3759px;top:1433px;font-size:15px">20日，甲决定将其位于乙省某小镇的丙超市予以出售。<span style="color:#000">不构成终止经营。</span></div>
<div class="t pk" style="left:3805px;top:1456px;font-size:15px">（1）2×17年12月25日，甲与丁签订转让丙超市的协议，转让价500万；转让时间为2×18年2月10日，转让日丙所有资产负债均由丁公司承接；违约一方需按照转让价格的</div>
<div class="t pk" style="left:3759px;top:1478px;font-size:15px">20%支付另一方违约金。</div>
<div class="t pk" style="left:3805px;top:1499px;font-size:15px">（2）2×17年12月31日，丙超市停止营业。当日，丙超市的资产总额为800万元，负债总额为350万元（其中，应付2×17年度超市房屋租赁费50万元，将于2×18年1月10日</div>
<div class="t pk" style="left:3759px;top:1520px;font-size:15px">支付），甲公司预计因出售丙超市需支付的相关税费为60万元。</div>
<div class="t pk" style="left:3805px;top:1540px;font-size:15px">（3）2×18年2月10日，丙A=750万（其中，银行存款300万元，库存商品360万元，应收账款90万元），L=300万（全部为应付账款）。</div>
<div class="t pk" style="left:3805px;top:1565px;font-size:15px">（4）2×18年2月10日，甲与丁办理了交接手续。当日，丁公司向甲公司支付转让价款500万元，甲公司2×17年度财务报表于2×18年3月15日对外提供，</div>
<div class="t pk" style="left:3797px;top:1589px;font-size:15px">要求：</div>
<div class="t pk" style="left:3805px;top:1612px;font-size:15px">（2）判断甲公司出售丙超市的交易，<span style="color:#000">属于日后非调整事项。</span></div>
<div class="t pk" style="left:3805px;top:1636px;font-size:15px">（3）说明拟出售丙超市的资产及负债在甲公司2×17年末资产负债表中应列报的项目名称及金额，计算拟出售丙超市的交易对甲公司2×17年度利润表的影响金额。</div>
<div class="t" style="left:3797px;top:1660px;font-size:15px">丙BV=800-350=450（万元）</div>
<div class="t" style="left:3797px;top:1685px;font-size:15px">FMV-出售费用=500-60=440（万元），</div>
<div class="t" style="left:3797px;top:1708px;font-size:15px">计提减值准备450-440=10（万元），计提减值准备后的资产总额=800-10=790（万元）。</div>
<div class="t" style="left:3797px;top:1732px;font-size:15px">丙的A在2×17年末B/S中应列报的项目为“持有待售资产”790万元。</div>
<div class="t" style="left:3797px;top:1756px;font-size:15px">丙的L在2×17年末B/S中应列报的项目为“持有待售负债”350万元。</div>
<div class="t" style="left:3797px;top:1781px;font-size:15px">丙的交易对2×17年IS的影响金额为-10万元。</div>
</body></html>
